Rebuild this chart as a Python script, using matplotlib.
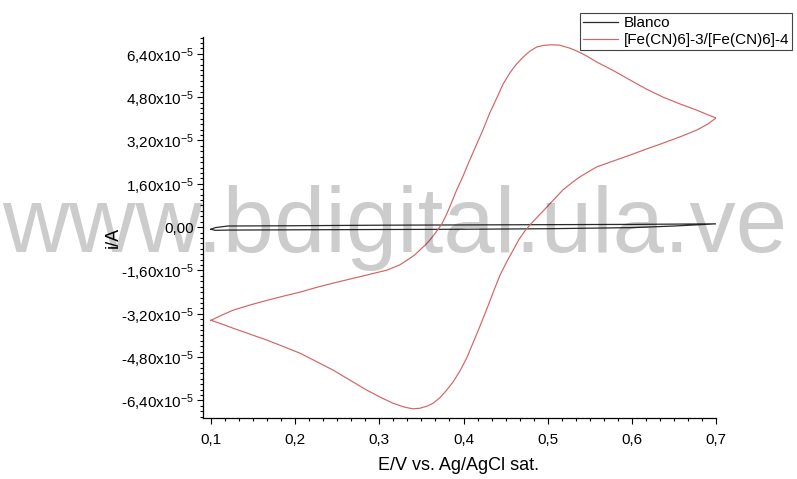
import numpy as np
import matplotlib
matplotlib.use("Agg")
import matplotlib.pyplot as plt
from matplotlib.ticker import MultipleLocator, AutoMinorLocator, FuncFormatter

plt.rcParams['font.family'] = ['Liberation Sans', 'DejaVu Sans']
plt.rcParams['mathtext.fontset'] = 'custom'
plt.rcParams['mathtext.rm'] = 'Liberation Sans'
plt.rcParams['mathtext.it'] = 'Liberation Sans:italic'

# potencial (V) y corriente (x1e-5 A), leidos de la figura
# barrido anodico 0,1 -> 0,7 V y luego catodico 0,7 -> 0,1 V
E_fe = [0.100, 0.113, 0.126, 0.146, 0.167, 0.186, 0.206, 0.225, 0.245, 0.265,
        0.285, 0.309, 0.324, 0.333, 0.342, 0.348, 0.355, 0.360, 0.367, 0.374,
        0.380, 0.386, 0.392, 0.399, 0.405, 0.411, 0.417, 0.423, 0.431, 0.440,
        0.447, 0.455, 0.463, 0.471, 0.479, 0.487, 0.495, 0.503, 0.514, 0.526,
        0.534, 0.542, 0.550, 0.558, 0.578, 0.598, 0.617, 0.637, 0.657, 0.677,
        0.690, 0.700,
        0.690, 0.677, 0.657, 0.637, 0.617, 0.598, 0.578, 0.558, 0.538, 0.528,
        0.518, 0.509, 0.499, 0.488, 0.479, 0.473, 0.466, 0.459, 0.451, 0.443,
        0.436, 0.428, 0.419, 0.411, 0.404, 0.396, 0.388, 0.380, 0.372, 0.364,
        0.357, 0.348, 0.340, 0.330, 0.316, 0.301, 0.285, 0.265, 0.245, 0.225,
        0.206, 0.186, 0.167, 0.146, 0.126, 0.113, 0.100]
i_fe = [-3.44, -3.25, -3.07, -2.88, -2.70, -2.55, -2.40, -2.23, -2.07, -1.92,
        -1.77, -1.59, -1.40, -1.22, -1.03, -0.85, -0.65, -0.48, -0.20, 0.10,
        0.48, 0.92, 1.38, 1.85, 2.30, 2.73, 3.16, 3.58, 4.20, 4.80,
        5.28, 5.69, 6.02, 6.28, 6.50, 6.65, 6.71, 6.73, 6.72, 6.61,
        6.51, 6.39, 6.25, 6.10, 5.78, 5.43, 5.10, 4.80, 4.55, 4.32,
        4.15, 4.03,
        3.80, 3.58, 3.33, 3.10, 2.88, 2.66, 2.44, 2.22, 1.85, 1.62,
        1.37, 1.07, 0.74, 0.38, 0.08, -0.14, -0.45, -0.85, -1.30, -1.80,
        -2.35, -3.00, -3.70, -4.30, -4.82, -5.30, -5.70, -6.02, -6.30, -6.50,
        -6.61, -6.69, -6.71, -6.65, -6.50, -6.28, -6.02, -5.65, -5.28, -4.96,
        -4.66, -4.41, -4.18, -3.95, -3.73, -3.58, -3.44]

E_blanco = [0.100, 0.105, 0.12, 0.2, 0.3, 0.4, 0.5, 0.6, 0.7,
            0.65, 0.6, 0.5, 0.4, 0.3, 0.2, 0.12, 0.105, 0.100]
i_blanco = [-0.08, -0.02, 0.04, 0.05, 0.07, 0.08, 0.09, 0.10, 0.12,
            0.04, -0.02, -0.06, -0.08, -0.09, -0.10, -0.11, -0.12, -0.08]

escala = 1e-5

fig = plt.figure(figsize=(7.97, 4.79), dpi=100)
ax = fig.add_axes([0.2547, 0.1273, 0.6437, 0.7955])

ax.plot(E_blanco, np.array(i_blanco) * escala, color='#2a2a2a', lw=0.9, label='Blanco')
ax.plot(E_fe, np.array(i_fe) * escala, color='#d46464', lw=0.85,
        label='[Fe(CN)6]-3/[Fe(CN)6]-4')

ax.set_xlim(0.0905, 0.70)
ax.set_ylim(-7.05e-5, 7.02e-5)

ax.spines['top'].set_visible(False)
ax.spines['right'].set_visible(False)
for s in ('left', 'bottom'):
    ax.spines[s].set_linewidth(0.9)

ax.xaxis.set_major_locator(MultipleLocator(0.1))
ax.xaxis.set_minor_locator(AutoMinorLocator(6))
ax.yaxis.set_major_locator(MultipleLocator(1.6e-5))
ax.yaxis.set_minor_locator(AutoMinorLocator(8))


def fmt_x(v, pos):
    return f"{v:.1f}".replace('.', ',')


def fmt_y(v, pos):
    m = v / escala
    if abs(m) < 1e-6:
        return "0,00"
    return f"{m:.2f}".replace('.', ',') + r"x10$^{-5}$"


ax.xaxis.set_major_formatter(FuncFormatter(fmt_x))
ax.yaxis.set_major_formatter(FuncFormatter(fmt_y))

ax.tick_params(axis='both', which='major', direction='out', length=4.5, width=0.8,
               labelsize=11)
ax.tick_params(axis='both', which='minor', direction='out', length=2.5, width=0.8)
ax.tick_params(axis='x', which='major', pad=6)
ax.tick_params(axis='y', which='major', pad=2)

ax.set_xlabel('E/V vs. Ag/AgCl sat.', fontsize=13)
ax.set_ylabel('i/A', fontsize=13)
ax.xaxis.set_label_coords(0.499, -0.103)
ax.yaxis.set_label_coords(-0.158, 0.475)

leg = fig.legend(loc='upper right', bbox_to_anchor=(0.9937, 0.9729), fontsize=11,
                 frameon=True, fancybox=False, framealpha=1, borderaxespad=0,
                 handlelength=2.3, handletextpad=0.35, borderpad=0.2,
                 labelspacing=0.2)
leg.get_frame().set_edgecolor('#444444')
leg.get_frame().set_linewidth(0.8)

# marca de agua
fig.text(0.003, 0.474, 'www.bdigital.ula.ve', fontsize=66.5, color='k', alpha=0.2,
         ha='left', va='baseline')

fig.savefig('out.png', dpi=100)
